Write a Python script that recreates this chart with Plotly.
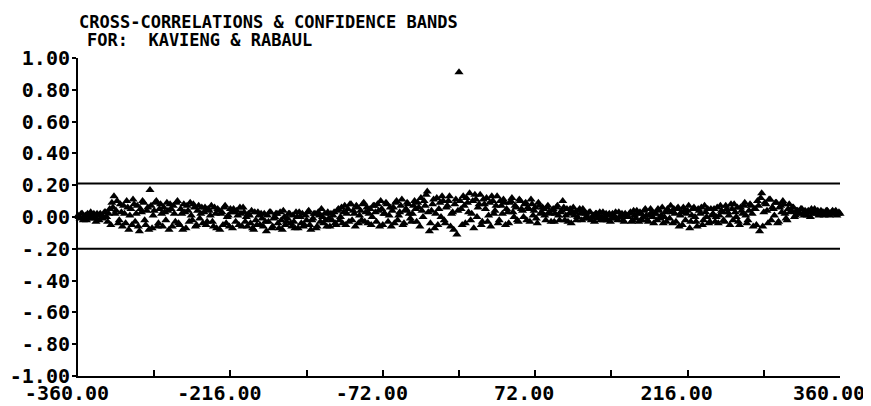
import numpy as np
import plotly.graph_objects as go

# even lags -360..360 and odd lags -359..359
lags_even = np.arange(-360, 361, 2)
lags_odd = np.arange(-359, 360, 2)

ccf_even = [
    # -360 .. -322
    0.01, -0.01, 0.02, 0.00, -0.02, 0.01, 0.03, -0.01, 0.00, 0.02, -0.02, 0.01, 0.00, 0.03, -0.03, 0.05, 0.09, 0.13, 0.04, -0.04,
    # -320 .. -282
    0.08, -0.06, 0.02, 0.10, -0.08, 0.05, 0.11, -0.03, 0.07, -0.09, 0.03, 0.09, -0.05, 0.06, 0.17, -0.07, 0.04, 0.10, -0.04, 0.08,
    # -280 .. -242
    -0.06, 0.03, 0.09, -0.08, 0.05, 0.07, -0.03, 0.10, -0.05, 0.02, 0.08, -0.07, 0.04, 0.09, -0.02, 0.06, -0.05, 0.07, 0.02, -0.04,
    # -240 .. -202
    0.06, -0.03, 0.04, 0.07, -0.06, 0.02, 0.05, -0.08, 0.03, 0.06, -0.04, 0.01, 0.05, -0.07, 0.03, 0.04, -0.05, 0.02, 0.06, -0.03,
    # -200 .. -162
    -0.06, 0.01, 0.04, -0.08, -0.02, 0.03, -0.05, -0.01, 0.02, -0.09, -0.03, 0.03, -0.06, 0.00, 0.02, -0.07, -0.02, 0.04, -0.05, -0.01,
    # -160 .. -122
    0.02, -0.06, -0.03, 0.03, -0.07, 0.00, 0.02, -0.05, -0.02, 0.04, -0.08, -0.01, 0.02, -0.06, 0.01, 0.05, -0.04, -0.02, 0.03, -0.06,
    # -120 .. -82
    -0.02, 0.03, -0.05, 0.05, 0.00, -0.04, 0.07, 0.02, -0.03, 0.08, 0.04, -0.06, 0.06, 0.01, -0.02, 0.09, 0.03, -0.04, 0.05, 0.00,
    # -80 .. -42
    0.07, -0.03, 0.04, 0.10, -0.05, 0.02, 0.08, 0.01, -0.06, 0.06, 0.09, -0.02, 0.03, 0.11, -0.04, 0.05, 0.08, -0.01, 0.02, 0.10,
    # -40 .. -2
    -0.03, 0.06, 0.12, 0.00, 0.07, 0.16, -0.09, 0.04, 0.11, 0.02, -0.05, 0.09, 0.13, -0.02, 0.06, 0.10, -0.06, 0.03, 0.08, -0.11,
    # 0 .. 38
    0.91, 0.05, 0.13, -0.04, 0.09, 0.15, 0.02, -0.07, 0.11, 0.06, 0.14, -0.03, 0.08, 0.12, 0.01, -0.06, 0.10, 0.04, 0.13, -0.02,
    # 40 .. 78
    0.07, 0.11, -0.05, 0.03, 0.09, 0.12, 0.00, 0.06, -0.03, 0.10, 0.04, 0.08, -0.02, 0.05, 0.11, 0.01, 0.06, -0.04, 0.07, 0.03,
    # 80 .. 118
    0.05, -0.02, 0.07, 0.02, 0.04, -0.03, 0.06, 0.01, 0.03, 0.10, -0.02, 0.05, 0.02, -0.04, 0.06, 0.03, 0.00, 0.05, -0.02, 0.03,
    # 120 .. 158
    0.02, -0.01, 0.03, 0.00, -0.03, 0.02, 0.01, -0.02, 0.03, 0.00, -0.02, 0.02, -0.01, 0.01, 0.03, -0.02, 0.00, 0.02, -0.03, 0.01,
    # 160 .. 198
    0.00, 0.03, -0.02, 0.01, 0.04, -0.03, 0.02, 0.00, 0.05, -0.02, 0.01, 0.03, -0.04, 0.02, 0.05, -0.01, 0.06, 0.00, -0.03, 0.04,
    # 200 .. 238
    0.07, -0.04, 0.02, 0.05, -0.06, 0.03, 0.06, -0.02, 0.04, -0.07, 0.01, 0.06, -0.03, 0.05, 0.02, -0.05, 0.07, 0.00, -0.04, 0.05,
    # 240 .. 278
    0.02, -0.03, 0.06, 0.01, 0.04, -0.02, 0.07, 0.03, -0.05, 0.05, 0.08, 0.00, -0.03, 0.06, 0.02, 0.09, -0.04, 0.04, 0.07, -0.06,
    # 280 .. 318
    0.05, 0.10, -0.09, 0.15, 0.03, 0.08, -0.04, 0.11, 0.06, 0.01, 0.09, -0.03, 0.07, 0.10, 0.02, -0.02, 0.08, 0.04, 0.06, 0.01,
    # 320 .. 360
    0.04, 0.02, 0.05, 0.01, 0.03, 0.04, 0.00, 0.03, 0.05, 0.02, 0.01, 0.04, 0.03, 0.02, 0.04, 0.01, 0.03, 0.02, 0.04, 0.02,
    0.02,
]

ccf_odd = [
    # -359 .. -321
    0.00, 0.02, -0.02, 0.01, 0.02, -0.01, 0.00, 0.02, -0.03, 0.01, 0.02, -0.01, 0.03, 0.00, 0.02, -0.05, 0.06, 0.02, 0.10, -0.02,
    # -319 .. -281
    0.03, 0.07, -0.04, 0.06, 0.01, -0.05, 0.08, 0.02, -0.06, 0.05, 0.10, -0.02, 0.04, -0.08, 0.07, 0.01, 0.09, -0.06, 0.05, 0.02,
    # -279 .. -241
    0.06, -0.02, 0.04, 0.08, -0.06, 0.02, 0.09, -0.04, 0.05, -0.08, 0.03, 0.07, -0.03, 0.01, 0.08, -0.06, 0.04, -0.01, 0.06, 0.03,
    # -239 .. -201
    -0.05, 0.05, 0.01, -0.03, 0.06, -0.07, 0.04, 0.02, -0.05, 0.07, 0.00, -0.06, 0.03, 0.05, -0.03, 0.01, 0.06, -0.06, 0.03, 0.00,
    # -199 .. -161
    0.02, -0.04, -0.07, 0.03, -0.05, 0.01, 0.02, -0.06, -0.03, 0.01, 0.03, -0.07, -0.01, 0.02, -0.04, 0.03, -0.08, 0.00, -0.03, 0.02,
    # -159 .. -121
    -0.04, 0.01, -0.07, 0.00, 0.03, -0.04, -0.06, 0.01, 0.03, -0.05, -0.02, 0.02, -0.07, 0.03, -0.03, 0.00, 0.02, -0.06, -0.01, 0.02,
    # -119 .. -81
    0.01, -0.04, 0.04, -0.02, 0.06, 0.03, -0.05, 0.05, 0.08, -0.02, 0.02, 0.07, -0.04, 0.04, 0.08, -0.03, 0.06, 0.02, -0.05, 0.07,
    # -79 .. -41
    0.03, 0.08, -0.06, 0.05, 0.02, 0.09, -0.03, 0.06, 0.04, -0.04, 0.10, 0.01, 0.07, -0.05, 0.04, 0.09, 0.02, -0.03, 0.07, 0.05,
    # -39 .. -1
    0.09, -0.06, 0.04, 0.10, 0.14, 0.03, -0.04, 0.08, -0.07, 0.12, 0.05, 0.00, 0.10, -0.04, 0.07, 0.13, 0.02, -0.08, 0.11, 0.04,
    # 1 .. 39
    0.10, -0.05, 0.07, 0.12, 0.03, -0.02, 0.10, 0.14, 0.00, 0.08, -0.05, 0.11, 0.05, -0.03, 0.09, 0.13, 0.02, 0.07, -0.04, 0.10,
    # 41 .. 79
    0.02, 0.09, 0.05, -0.04, 0.10, 0.03, 0.07, -0.02, 0.11, 0.05, 0.00, 0.09, 0.06, -0.03, 0.08, 0.04, -0.01, 0.09, 0.02, 0.06,
    # 81 .. 119
    0.01, 0.06, 0.03, -0.03, 0.05, 0.02, 0.07, -0.02, 0.04, 0.06, 0.01, -0.03, 0.05, 0.03, 0.01, -0.02, 0.04, 0.02, 0.05, -0.01,
    # 121 .. 159
    0.00, 0.03, -0.02, 0.01, 0.02, -0.01, 0.03, 0.00, -0.02, 0.02, 0.01, -0.03, 0.02, 0.00, -0.01, 0.03, 0.01, -0.02, 0.02, 0.00,
    # 161 .. 199
    0.02, -0.03, 0.04, -0.01, 0.02, 0.03, -0.02, 0.04, 0.01, -0.03, 0.05, 0.00, 0.02, -0.02, 0.04, 0.01, -0.04, 0.03, 0.05, -0.01,
    # 201 .. 239
    0.03, 0.05, -0.03, 0.06, 0.01, -0.05, 0.04, 0.02, 0.07, -0.03, 0.05, 0.00, -0.06, 0.04, 0.06, -0.02, 0.03, 0.05, -0.03, 0.01,
    # 241 .. 279
    0.05, 0.00, -0.04, 0.07, 0.03, -0.03, 0.05, 0.01, 0.08, -0.02, 0.03, 0.06, -0.05, 0.04, 0.07, 0.01, -0.02, 0.08, 0.02, 0.05,
    # 281 .. 319
    -0.05, 0.07, 0.12, -0.06, 0.09, 0.04, 0.11, -0.02, 0.05, 0.09, -0.04, 0.06, 0.03, 0.08, -0.01, 0.05, 0.03, 0.06, 0.00, 0.04,
    # 321 .. 359
    0.03, 0.05, 0.02, 0.04, 0.01, 0.03, 0.05, 0.02, 0.03, 0.04, 0.02, 0.03, 0.01, 0.04, 0.03, 0.02, 0.04, 0.03, 0.01, 0.03,
]

band_upper = 0.21
band_lower = -0.20

x_ticks = [-360, -288, -216, -144, -72, 0, 72, 144, 216, 288, 360]
x_ticktext = ['-360.00', '', '-216.00', '', '-72.00', '', '72.00', '', '216.00', '', '360.00']
y_ticks = [1.0, 0.8, 0.6, 0.4, 0.2, 0.0, -0.2, -0.4, -0.6, -0.8, -1.0]
y_ticktext = ['1.00', '0.80', '0.60', '0.40', '0.20', '0.00', '-.20', '-.40', '-.60', '-.80', '-1.00']

font_family = 'DejaVu Sans Mono'

fig = go.Figure()
for b in (band_upper, band_lower):
    fig.add_trace(go.Scatter(
        x=[lags_even[0], lags_even[-1]], y=[b, b],
        mode='lines',
        line=dict(color='black', width=2),
        hoverinfo='skip',
    ))
for lx, ly in ((lags_even, ccf_even), (lags_odd, ccf_odd)):
    fig.add_trace(go.Scatter(
        x=lx, y=ly,
        mode='markers',
        marker=dict(symbol='triangle-up', size=8, color='black'),
        cliponaxis=False,
    ))

fig.update_xaxes(
    range=[-360, 360],
    tickvals=x_ticks,
    ticktext=x_ticktext,
    ticks='inside',
    ticklen=6,
    tickwidth=2,
    tickcolor='black',
    ticklabelshift=-11,
    ticklabelstandoff=-2,
    showline=True,
    linecolor='black',
    linewidth=2,
    showgrid=False,
    zeroline=False,
    automargin=False,
    tickfont=dict(family=font_family, size=20, color='black', weight='bold'),
)
fig.update_yaxes(
    range=[-1, 1],
    tickvals=y_ticks,
    ticktext=y_ticktext,
    ticks='outside',
    ticklen=4,
    tickwidth=2,
    tickcolor='black',
    ticklabelstandoff=-2,
    showline=True,
    linecolor='black',
    linewidth=2,
    showgrid=False,
    zeroline=False,
    automargin=False,
    tickfont=dict(family=font_family, size=20, color='black', weight='bold'),
)

title_font = dict(family=font_family, size=17, color='black', weight='bold')
fig.add_annotation(
    text='CROSS-CORRELATIONS & CONFIDENCE BANDS',
    xref='paper', yref='paper', x=0.0, y=1.0,
    xanchor='left', yanchor='bottom', yshift=24, xshift=-1,
    showarrow=False, font=title_font,
)
fig.add_annotation(
    text='FOR:\u00a0\u00a0KAVIENG & RABAUL',
    xref='paper', yref='paper', x=0.0, y=1.0,
    xanchor='left', yanchor='bottom', yshift=6, xshift=7,
    showarrow=False, font=title_font,
)

# the page body adds an 8px offset; margins are set so the plot area lands where the reference has it
fig.update_layout(
    width=863,
    height=398,
    showlegend=False,
    plot_bgcolor='white',
    paper_bgcolor='white',
    margin=dict(l=70, r=31, t=50, b=30),
)
fig.write_html("out.html")
